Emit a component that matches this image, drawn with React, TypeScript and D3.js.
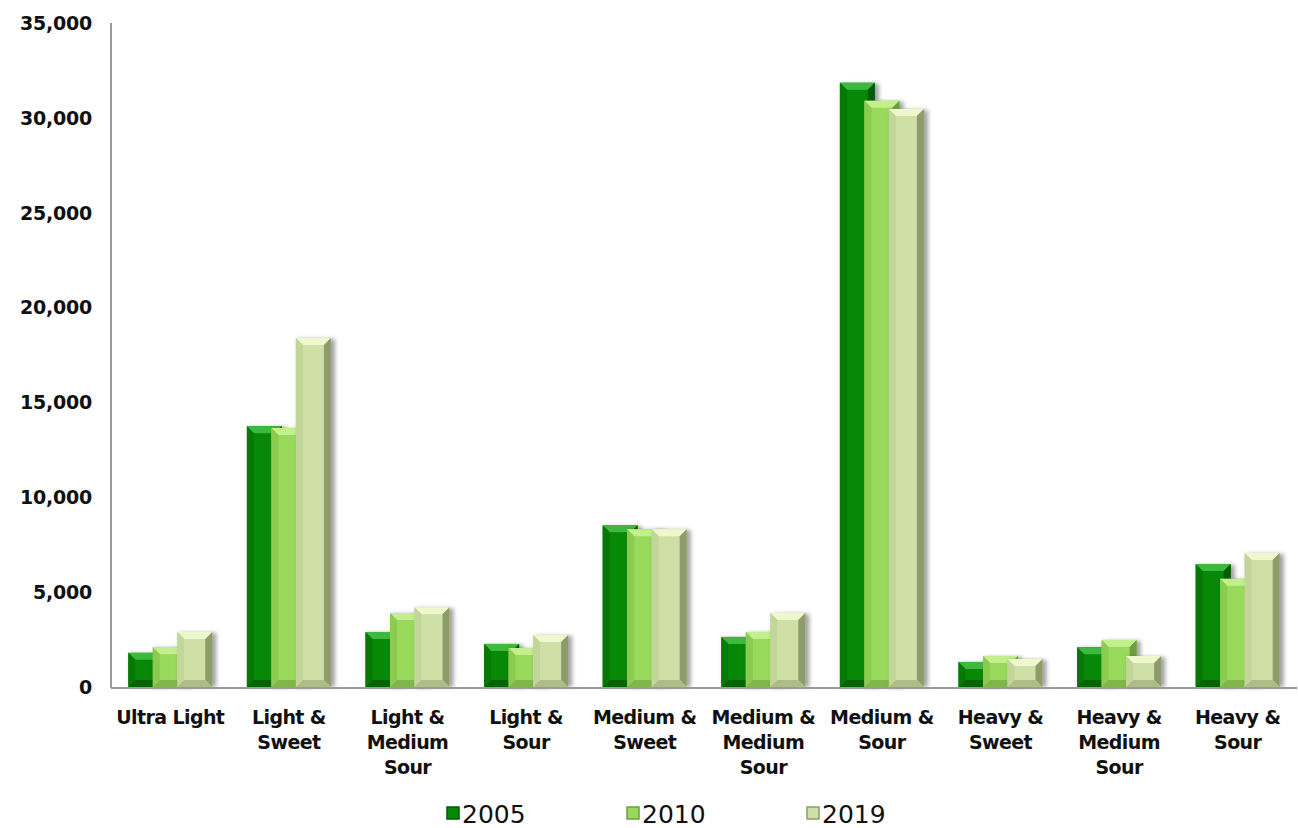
import React from "react";
import * as d3 from "d3";

const categories: string[][] = [
  ["Ultra Light"],
  ["Light &", "Sweet"],
  ["Light &", "Medium", "Sour"],
  ["Light &", "Sour"],
  ["Medium &", "Sweet"],
  ["Medium &", "Medium", "Sour"],
  ["Medium &", "Sour"],
  ["Heavy &", "Sweet"],
  ["Heavy &", "Medium", "Sour"],
  ["Heavy &", "Sour"],
];
const seriesNames = ["2005", "2010", "2019"];
const values2005 = [1800, 13750, 2900, 2270, 8520, 2640, 31850, 1320, 2100, 6480];
const values2010 = [2100, 13650, 3900, 2050, 8320, 2900, 30900, 1630, 2480, 5700];
const values2019 = [2900, 18400, 4200, 2740, 8320, 3900, 30470, 1480, 1630, 7060];
const yTicks = [0, 5000, 10000, 15000, 20000, 25000, 30000, 35000];

const series = [values2005, values2010, values2019];
const colors = [
  { face: "#078807", top: "#3fb83f", left: "#067806", right: "#055a05", bottom: "#046404" },
  { face: "#99d95c", top: "#c2f08c", left: "#8ccb50", right: "#6e9f3e", bottom: "#7fb84a" },
  { face: "#cfe0a6", top: "#eef8cc", left: "#c3d699", right: "#8e9c6c", bottom: "#aebd85" },
];

const W = 1298;
const H = 828;
const left = 111;
const right = 1297;
const top = 23;
const bottom = 687;

function Bar({ x, y, w, h, c }: { x: number; y: number; w: number; h: number; c: typeof colors[0] }) {
  const b = Math.min(7, h / 2, w / 2);
  return (
    <g>
      <rect x={x + 2} y={y + 1} width={w + 2} height={h - 1} fill="#555" opacity={0.55} filter="url(#shadow)" />
      <rect x={x} y={y} width={w} height={h} fill={c.face} />
      <polygon points={`${x},${y} ${x + w},${y} ${x + w - b},${y + b} ${x + b},${y + b}`} fill={c.top} />
      <polygon points={`${x},${y} ${x + b},${y + b} ${x + b},${y + h - b} ${x},${y + h}`} fill={c.left} />
      <polygon points={`${x + w},${y} ${x + w},${y + h} ${x + w - b},${y + h - b} ${x + w - b},${y + b}`} fill={c.right} />
      <polygon points={`${x},${y + h} ${x + w},${y + h} ${x + w - b},${y + h - b} ${x + b},${y + h - b}`} fill={c.bottom} />
    </g>
  );
}

export default function App() {
  const x = d3.scaleBand<number>().domain(d3.range(categories.length)).range([left, right]).paddingInner(0).paddingOuter(0);
  const y = d3.scaleLinear().domain([0, 35000]).range([bottom, top]);
  const barW = 35;
  const step = 24.5;
  const groupW = step * 2 + barW;
  const fmt = d3.format(",");
  const font = "'DejaVu Sans', sans-serif";

  return (
    <svg width={W} height={H} style={{ position: "absolute", left: 0, top: 0, background: "#fff" }}>
      <defs>
        <filter id="shadow" x="-50%" y="-10%" width="200%" height="120%">
          <feGaussianBlur stdDeviation="2" />
        </filter>
      </defs>
      {yTicks.map((t) => (
        <text key={t} x={92} y={y(t)} dy="0.36em" textAnchor="end" fontFamily={font} fontWeight="bold" fontSize={19} letterSpacing={-0.2} fill="#111">
          {fmt(t)}
        </text>
      ))}
      {categories.map((cat, i) => {
        const cx = x(i)! + x.bandwidth() / 2;
        const gx = cx - groupW / 2;
        return (
          <g key={i}>
            {series.map((vals, s) => {
              const v = vals[i];
              return <Bar key={s} x={gx + s * step} y={y(v)} w={barW} h={bottom - y(v)} c={colors[s]} />;
            })}
            <text x={cx} y={724} textAnchor="middle" fontFamily={font} fontWeight="bold" fontSize={19} letterSpacing={-0.6} fill="#111">
              {cat.map((l, k) => (
                <tspan key={k} x={cx} dy={k === 0 ? 0 : 25}>{l}</tspan>
              ))}
            </text>
          </g>
        );
      })}
      <line x1={left} x2={left} y1={top} y2={bottom + 1} stroke="#9a9a9a" strokeWidth={2} />
      <line x1={left} x2={right} y1={bottom + 1} y2={bottom + 1} stroke="#9a9a9a" strokeWidth={2} />
      {seriesNames.map((n, s) => {
        const lx = 447 + s * 180;
        return (
          <g key={n}>
            <rect x={lx} y={807} width={12} height={12} fill={colors[s].face} stroke={colors[s].right} strokeWidth={1.5} />
            <text x={lx + 15} y={814} dy="0.36em" fontFamily={font} fontSize={25} fill="#111">{n}</text>
          </g>
        );
      })}
    </svg>
  );
}
